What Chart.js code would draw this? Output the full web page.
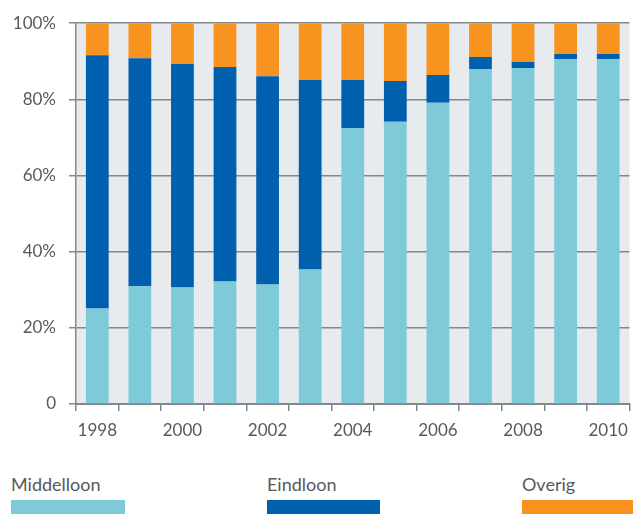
<!DOCTYPE html>
<html>
<head>
<meta charset="utf-8">
<script src="https://cdn.jsdelivr.net/npm/chart.js@4"></script>
<style>
  html, body { margin: 0; padding: 0; background: #fff; }
  #wrap { position: relative; width: 633px; height: 514px; overflow: hidden; }
  #chart { position: absolute; left: 0; top: 0; }
  .legend-item { position: absolute; top: 473px; font: 18px Lato, "Open Sans", sans-serif; color: #58595b; line-height: 22px; }
  .legend-item span { display: block; margin-top: 5px; height: 16px; }
</style>
</head>
<body>
<div id="wrap">
  <canvas id="chart" width="637" height="460"></canvas>
  <div id="legend"></div>
</div>
<script>
// Share of pension schemes per year (percent)
const years = ['1998', '1999', '2000', '2001', '2002', '2003', '2004', '2005', '2006', '2007', '2008', '2009', '2010'];
const middelloon = [25.1, 30.9, 30.6, 32.2, 31.4, 35.3, 72.5, 74.1, 79.1, 88.0, 88.2, 90.6, 90.6];
const eindloon   = [66.5, 59.9, 58.7, 56.3, 54.7, 49.8, 12.6, 10.7, 7.3, 3.1, 1.6, 1.3, 1.3];
const overig     = [8.4, 9.2, 10.7, 11.5, 13.9, 14.9, 14.9, 15.2, 13.6, 8.9, 10.2, 8.1, 8.1];
const yTicks = [0, 20, 40, 60, 80, 100];

const colors = ['#7ecad9', '#0060ae', '#f7931e'];
const seriesNames = ['Middelloon', 'Eindloon', 'Overig'];
const legendLeft = [11, 267, 522];
const legendWidth = [114, 113, 111];

const axisGray = '#7f898d';
const textColor = '#58595b';
const font = { family: 'Lato, "Open Sans", sans-serif', size: 17 };

// plot background behind the bars
const plotBackground = {
  id: 'plotBackground',
  beforeDraw(chart) {
    const { ctx, chartArea: a } = chart;
    ctx.save();
    ctx.fillStyle = '#e8ebee';
    ctx.fillRect(a.left, a.top, a.right - a.left, a.bottom - a.top);
    ctx.restore();
  }
};

const chart = new Chart(document.getElementById('chart'), {
  type: 'bar',
  data: {
    labels: years,
    datasets: [middelloon, eindloon, overig].map((d, i) => ({
      label: seriesNames[i],
      data: d,
      backgroundColor: colors[i],
      borderWidth: 0,
      categoryPercentage: 1,
      barPercentage: 0.535
    }))
  },
  options: {
    responsive: false,
    animation: false,
    layout: { padding: { top: 22, right: 2, left: 0, bottom: 0 } },
    plugins: { legend: { display: false }, tooltip: { enabled: false } },
    scales: {
      x: {
        stacked: true,
        afterFit: s => { s.height = 56; },
        grid: { offset: true, drawOnChartArea: false, tickLength: 7, color: axisGray, lineWidth: 1.5 },
        border: { color: axisGray, width: 2 },
        ticks: {
          color: textColor,
          font: font,
          padding: 9,
          maxRotation: 0,
          autoSkip: false,
          callback: (v, i) => (i % 2 === 0 ? years[i] : '')
        }
      },
      y: {
        stacked: true,
        min: 0,
        max: 100,
        afterFit: s => { s.width = 76; },
        afterBuildTicks: s => { s.ticks = yTicks.map(v => ({ value: v })); },
        grid: { color: axisGray, lineWidth: 1.5, tickLength: 7 },
        border: { color: axisGray, width: 1.5 },
        ticks: {
          color: textColor,
          font: font,
          padding: 13,
          callback: v => (v === 0 ? '0' : v + '%')
        }
      }
    }
  },
  plugins: [plotBackground]
});

// legend below the chart
const legend = document.getElementById('legend');
chart.data.datasets.forEach((ds, i) => {
  const item = document.createElement('div');
  item.className = 'legend-item';
  item.style.left = legendLeft[i] + 'px';
  item.textContent = ds.label;
  const box = document.createElement('span');
  box.style.background = ds.backgroundColor;
  box.style.width = legendWidth[i] + 'px';
  item.appendChild(box);
  legend.appendChild(item);
});
</script>
</body>
</html>
